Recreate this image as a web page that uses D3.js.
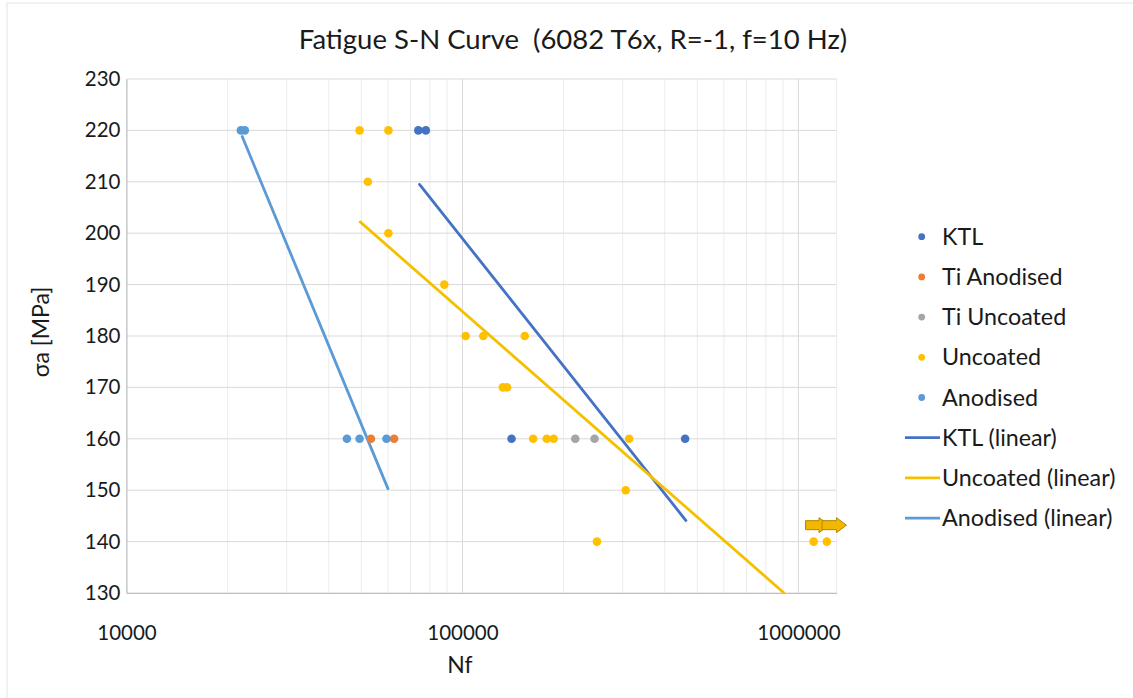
<!DOCTYPE html>
<html lang="en">
<head>
  <meta charset="UTF-8" />
  <title>Fatigue S-N Curve</title>
  <style>
    html, body { margin: 0; padding: 0; background: #fff; }
    svg { display: block; font-family: Lato, "Open Sans", sans-serif; }
    .grid line { stroke: #d9d9d9; stroke-width: 1px; }
    .grid .minor { stroke: #ececec; }
    .tick-label { font-size: 20.5px; fill: #1a1a1a; }
    .legend text { font-size: 23.3px; fill: #1a1a1a; }
  </style>
</head>
<body>
  <svg width="1133" height="698"></svg>
  <script src="https://d3js.org/d3.v7.min.js"></script>
  <script>
    // series (Nf = cycles, sa = stress amplitude MPa)
    const ktlN = [73900, 77800, 140000, 460000];
    const ktlS = [220, 220, 160, 160];
    const tiAnoN = [53400, 62600];
    const tiAnoS = [160, 160];
    const tiUncN = [216700, 247300];
    const tiUncS = [160, 160];
    const uncN = [49400, 60200, 52300, 60200, 88300, 102200, 115300, 153300, 131900, 135800,
                  162300, 178200, 186800, 313400, 306200, 251400, 1110000, 1215000];
    const uncS = [220, 220, 210, 200, 190, 180, 180, 180, 170, 170,
                  160, 160, 160, 160, 150, 140, 140, 140];
    const anoN = [21900, 22500, 45300, 49400, 59400];
    const anoS = [220, 220, 160, 160, 160];

    // trendline end points
    const ktlTrendN = [74500, 462600];
    const ktlTrendS = [209.5, 144.1];
    const uncTrendN = [49600, 906000];
    const uncTrendS = [202.2, 130];
    const anoTrendN = [22100, 60000];
    const anoTrendS = [218.8, 150.3];

    // run-out arrow
    const arrowN = [1050000, 1390000];
    const arrowS = 143.2;

    const xTicks = [10000, 100000, 1000000];
    const yTicks = [130, 140, 150, 160, 170, 180, 190, 200, 210, 220, 230];

    const series = [
      { name: "KTL", color: "#4472C4", n: ktlN, s: ktlS },
      { name: "Ti Anodised", color: "#ED7D31", n: tiAnoN, s: tiAnoS },
      { name: "Ti Uncoated", color: "#A5A5A5", n: tiUncN, s: tiUncS },
      { name: "Uncoated", color: "#FFC000", n: uncN, s: uncS },
      { name: "Anodised", color: "#5B9BD5", n: anoN, s: anoS }
    ];
    const trends = [
      { name: "KTL (linear)", color: "#4472C4", n: ktlTrendN, s: ktlTrendS },
      { name: "Uncoated (linear)", color: "#F5C000", n: uncTrendN, s: uncTrendS },
      { name: "Anodised (linear)", color: "#5B9BD5", n: anoTrendN, s: anoTrendS }
    ];

    const svg = d3.select("svg");
    const pLeft = 126.5, pRight = 836.7, pTop = 79, pBottom = 593;

    const x = d3.scaleLog().domain([10000, 1300000]).range([pLeft, pRight]);
    const y = d3.scaleLinear().domain([130, 230]).range([pBottom, pTop]);

    // chart outline (only top/left edges fall inside the frame)
    svg.append("rect")
      .attr("x", 7).attr("y", 3).attr("width", 1200).attr("height", 800)
      .attr("fill", "none").attr("stroke", "#e3e3e3");

    svg.append("defs").append("clipPath").attr("id", "plot")
      .append("rect").attr("x", pLeft).attr("y", pTop)
      .attr("width", pRight - pLeft).attr("height", pBottom - pTop);

    // grid
    const grid = svg.append("g").attr("class", "grid");
    const minorTicks = [];
    for (let d = 10000; d < 1300000; d *= 10) {
      for (let k = 2; k <= 9; k++) if (d * k < 1300000) minorTicks.push(d * k);
    }
    grid.selectAll("line.minor").data(minorTicks).join("line")
      .attr("class", "minor")
      .attr("x1", d => x(d)).attr("x2", d => x(d))
      .attr("y1", pTop).attr("y2", pBottom);
    grid.selectAll("line.h").data(yTicks).join("line")
      .attr("class", "h")
      .attr("x1", pLeft).attr("x2", pRight)
      .attr("y1", d => y(d)).attr("y2", d => y(d));
    grid.selectAll("line.v").data(xTicks).join("line")
      .attr("class", "v")
      .attr("x1", d => x(d)).attr("x2", d => x(d))
      .attr("y1", pTop).attr("y2", pBottom);
    grid.append("line")
      .attr("x1", pRight).attr("x2", pRight).attr("y1", pTop).attr("y2", pBottom)
      .attr("class", "minor");

    // axes
    const yAxis = svg.append("g")
      .attr("transform", `translate(${pLeft},0)`)
      .call(d3.axisLeft(y).tickValues(yTicks).tickSize(0).tickPadding(6));
    const xAxis = svg.append("g")
      .attr("transform", `translate(0,${pBottom})`)
      .call(d3.axisBottom(x).tickValues(xTicks).tickFormat(d3.format("d")).tickSize(0).tickPadding(32));
    [yAxis, xAxis].forEach(a => {
      a.attr("font-family", null).attr("font-size", null);
      a.select(".domain").attr("stroke", "#bfbfbf");
      a.selectAll("text").attr("class", "tick-label");
    });

    // trendlines
    const line = d3.line().x(d => x(d[0])).y(d => y(d[1]));
    svg.append("g").attr("clip-path", "url(#plot)")
      .selectAll("path").data(trends).join("path")
      .attr("d", t => line(d3.zip(t.n, t.s)))
      .attr("fill", "none")
      .attr("stroke", t => t.color)
      .attr("stroke-width", 2.8)
      .attr("stroke-linecap", "round");

    // points
    const pts = svg.append("g");
    series.forEach(sr => {
      pts.append("g").selectAll("circle")
        .data(d3.zip(sr.n, sr.s)).join("circle")
        .attr("cx", d => x(d[0]))
        .attr("cy", d => y(d[1]))
        .attr("r", 4.3)
        .attr("fill", sr.color);
    });

    // run-out arrow (two overlapping block arrows)
    const ax0 = x(arrowN[0]), ax1 = x(arrowN[1]), ay = y(arrowS);
    const mid = (ax0 + ax1) / 2;
    function blockArrow(x0, x1) {
      const sh = 4.5, hh = 7.5, hl = 10;
      return `M${x0},${ay - sh}L${x1 - hl},${ay - sh}L${x1 - hl},${ay - hh}L${x1},${ay}` +
             `L${x1 - hl},${ay + hh}L${x1 - hl},${ay + sh}L${x0},${ay + sh}Z`;
    }
    svg.append("path").attr("d", blockArrow(ax0, mid + 3))
      .attr("fill", "#F2B800").attr("stroke", "#B38600").attr("stroke-width", 1);
    svg.append("path").attr("d", blockArrow(mid - 4, ax1))
      .attr("fill", "#F2B800").attr("stroke", "#B38600").attr("stroke-width", 1);

    // title + axis titles
    svg.append("text")
      .attr("x", 573).attr("y", 49)
      .attr("text-anchor", "middle")
      .attr("font-size", 27.5).attr("fill", "#1a1a1a")
      .style("white-space", "pre")
      .text("Fatigue S-N Curve  (6082 T6x, R=-1, f=10 Hz)");
    svg.append("text")
      .attr("transform", `translate(49,${(pTop + pBottom) / 2 - 4}) rotate(-90)`)
      .attr("text-anchor", "middle")
      .attr("font-size", 23).attr("fill", "#1a1a1a")
      .text("σa [MPa]");
    svg.append("text")
      .attr("x", 460).attr("y", 673)
      .attr("text-anchor", "middle")
      .attr("font-size", 23).attr("fill", "#1a1a1a")
      .text("Nf");

    // legend
    const legendItems = series.map(s => ({ ...s, kind: "dot" }))
      .concat(trends.map(t => ({ ...t, kind: "line" })));
    const lg = svg.append("g").attr("class", "legend")
      .selectAll("g").data(legendItems).join("g")
      .attr("transform", (d, i) => `translate(0,${236.7 + i * 40.2})`);
    lg.filter(d => d.kind === "dot").append("circle")
      .attr("cx", 921.7).attr("cy", 0).attr("r", 3.4).attr("fill", d => d.color);
    lg.filter(d => d.kind === "line").append("line")
      .attr("x1", 905).attr("x2", 940).attr("y1", 0).attr("y2", 0)
      .attr("stroke", d => d.color).attr("stroke-width", 2.8);
    lg.append("text")
      .attr("x", 942).attr("y", 0).attr("dy", "0.35em")
      .text(d => d.name);
  </script>
</body>
</html>
